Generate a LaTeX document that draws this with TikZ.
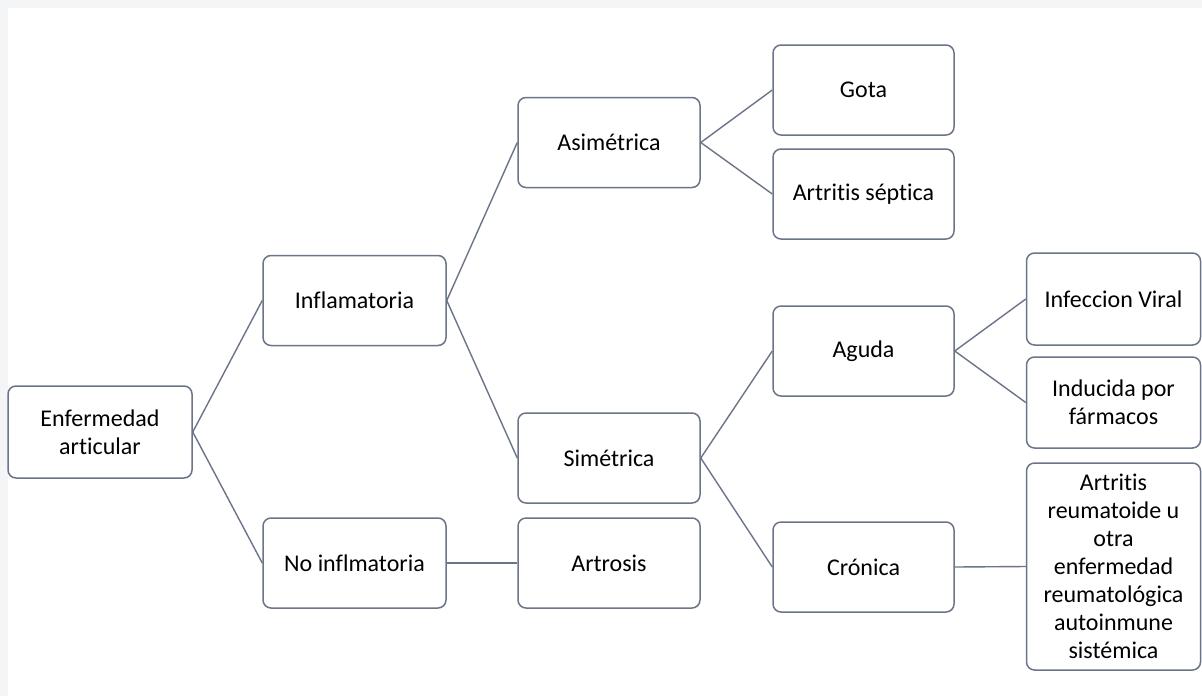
\documentclass[tikz,border=0pt]{standalone}
\usepackage{fontspec}
\setmainfont{Carlito}[Ligatures=NoCommon]
\definecolor{boxline}{HTML}{6B7488}
\definecolor{pagegray}{HTML}{F3F5F7}

\begin{document}
\begin{tikzpicture}[x=0.5pt, y=-0.5pt,
	box/.style={draw=boxline, line width=0.75pt, rounded corners=4pt, fill=white, align=center,
		font=\fontsize{12}{14}\selectfont, inner sep=0pt, minimum width=91.5pt, minimum height=45pt},
	leaf/.style={box, minimum width=87pt},
	link/.style={draw=boxline, line width=0.7pt}]
	
	% background
	\fill [pagegray] (0,0) rectangle (1202,696);
	\fill [white] (8,8) rectangle (1202,696);
	\useasboundingbox (0,0) rectangle (1202,696);
	
	% boxes
	\node [box, minimum width=92pt, minimum height=46pt] (enf) at (100,432) {Enfermedad\\articular};
	\node [box] (infl) at (354.5,300.5) {Inflamatoria};
	\node [box] (noinfl) at (354.5,563) {No inflmatoria};
	
	\node [box, minimum width=91pt] (asim) at (609,142.5) {Asimétrica};
	\node [box, minimum width=91pt] (sim) at (609,458) {Simétrica};
	\node [box, minimum width=91pt] (artrosis) at (609,563) {Artrosis};
	
	\node [box, minimum width=90.5pt] (gota) at (863.5,90) {Gota};
	\node [box, minimum width=90.5pt] (septica) at (863.5,194) {Artritis séptica};
	\node [box, minimum width=90.5pt] (aguda) at (863.5,351) {Aguda};
	\node [box, minimum width=90.5pt] (cronica) at (863.5,567) {Crónica};
	
	\node [leaf, minimum height=46pt] (viral) at (1113.5,299) {Infeccion Viral};
	\node [leaf, minimum height=45.5pt] (farmacos) at (1113.5,402.5) {Inducida por\\fármacos};
	\node [leaf, minimum height=103.5pt] (reuma) at (1113.5,566.5)
		{Artritis\\reumatoide u\\otra\\enfermedad\\reumatológica\\autoinmune\\sistémica};
	
	% connectors
	\draw [link] (enf.east) -- (infl.west);
	\draw [link] (enf.east) -- (noinfl.west);
	\draw [link] (infl.east) -- (asim.west);
	\draw [link] (infl.east) -- (sim.west);
	\draw [link] (noinfl.east) -- (artrosis.west);
	\draw [link] (asim.east) -- (gota.west);
	\draw [link] (asim.east) -- (septica.west);
	\draw [link] (sim.east) -- (aguda.west);
	\draw [link] (sim.east) -- (cronica.west);
	\draw [link] (aguda.east) -- (viral.west);
	\draw [link] (aguda.east) -- (farmacos.west);
	\draw [link] (cronica.east) -- (reuma.west);
\end{tikzpicture}
\end{document}
